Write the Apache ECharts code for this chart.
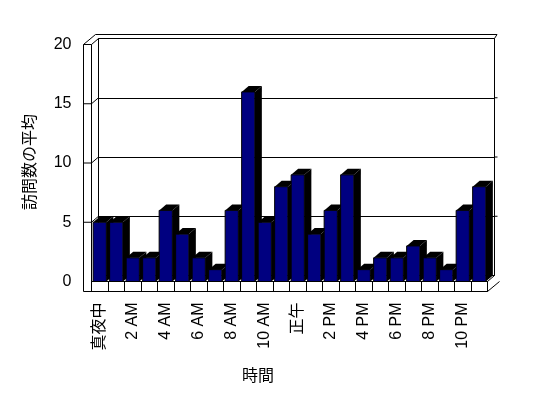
<!DOCTYPE html>
<html>
<head>
<meta charset="utf-8">
<script src="https://cdn.jsdelivr.net/npm/echarts@6/dist/echarts.min.js"></script>
<style>
  html, body { margin: 0; padding: 0; background: #fff; }
  #main { width: 548px; height: 398px; }
</style>
</head>
<body>
<div id="main"></div>
<script>
// 時間帯ごとの訪問数の平均
var hours = ['真夜中', '1 AM', '2 AM', '3 AM', '4 AM', '5 AM', '6 AM', '7 AM', '8 AM', '9 AM', '10 AM', '11 AM',
             '正午', '1 PM', '2 PM', '3 PM', '4 PM', '5 PM', '6 PM', '7 PM', '8 PM', '9 PM', '10 PM', '11 PM'];
var visits = [5, 5, 2, 2, 6, 4, 2, 1, 6, 16, 5, 8, 9, 4, 6, 9, 1, 2, 2, 3, 2, 1, 6, 8];
var yTicks = [0, 5, 10, 15, 20];

var FONT = '"Liberation Sans", "Noto Sans CJK JP", sans-serif';
var Y_MAX = yTicks[yTicks.length - 1];
var Y_STEP = yTicks[1] - yTicks[0];

// 3D風の奥行き
var DX = 7, DY = 6;        // 棒・壁の奥行き
var WALL = 8, FLOOR = 10;  // 左壁・床の厚み
var ODX = 12, ODY = 10;    // 外側の斜め線
var BWX = 2.5;             // 奥の壁の厚み

var front = { left: 91.5, top: 44.5, width: 396, height: 237 };
var back = { left: front.left + DX, top: front.top - DY, width: front.width, height: front.height };

function renderBar(params, api) {
    var idx = api.value(0), val = api.value(1);
    var topPt = api.coord([idx, val]);
    var basePt = api.coord([idx, 0]);
    var w = api.size([1, 0])[0] * 0.8;
    var x0 = topPt[0] - w / 2, x1 = topPt[0] + w / 2;
    var yt = topPt[1], yb = basePt[1];
    return {
        type: 'group',
        children: [
            { type: 'polygon', shape: { points: [[x1, yt], [x1 + DX, yt - DY], [x1 + DX, yb - DY], [x1, yb]] }, style: { fill: '#000' } },
            { type: 'polygon', shape: { points: [[x0, yt], [x0 + DX, yt - DY], [x1 + DX, yt - DY], [x1, yt]] }, style: { fill: '#000' } },
            { type: 'rect', shape: { x: x0, y: yt, width: w, height: yb - yt }, style: { fill: '#000080', stroke: '#000', lineWidth: 1 } }
        ]
    };
}

function renderFrame(params, api) {
    var cw = api.size([1, 0])[0];
    var p0 = api.coord([0, 0]);
    var left = p0[0] - cw / 2, right = left + cw * hours.length;
    var bottom = p0[1], top = api.coord([0, Y_MAX])[1];
    var lines = [
        [[left - WALL, top], [left - WALL, bottom + FLOOR], [right, bottom + FLOOR], [right, bottom]],
        [[left, bottom], [left, top], [left - WALL, top]],
        [[left - WALL, top], [left - WALL + ODX, top - ODY], [right + DX + BWX, top - ODY], [right + DX, top - DY]],
        [[left, top], [left + DX, top - DY]],
        [[right, bottom], [right + DX, bottom - DY]],
        [[right, bottom + FLOOR], [right + ODX, bottom + FLOOR - ODY]]
    ];
    // 左壁の目盛り
    for (var k = 1; k < yTicks.length - 1; k++) {
        var y = api.coord([0, yTicks[k]])[1];
        lines.push([[left - WALL, y], [left, y], [left + DX, y - DY]]);
        lines.push([[right + DX, y - DY], [right + DX + 3, y - DY]]);
    }
    var children = [];
    for (var i = 0; i < lines.length; i++) {
        children.push({ type: 'polyline', shape: { points: lines[i] }, style: { stroke: '#000', lineWidth: 1, fill: null } });
    }
    return { type: 'group', children: children };
}

var myChart = echarts.init(document.getElementById('main'));
var barData = [];
for (var i = 0; i < hours.length; i++) {
    barData.push([i, visits[i]]);
}

var option = {
    backgroundColor: '#fff',
    animation: false,
    grid: [
        { left: front.left, top: front.top, width: front.width, height: front.height },
        { left: back.left, top: back.top, width: back.width, height: back.height, show: true, borderColor: '#000', borderWidth: 1, backgroundColor: '#fff' }
    ],
    xAxis: [{
        type: 'category',
        gridIndex: 0,
        data: hours,
        axisLine: { lineStyle: { color: '#000', width: 1 } },
        axisTick: { show: true, interval: 0, length: FLOOR, lineStyle: { color: '#000' } },
        axisLabel: { interval: 1, rotate: 90, margin: 21, color: '#000', fontSize: 16, fontFamily: FONT }
    }, {
        type: 'category',
        gridIndex: 1,
        data: hours,
        show: false
    }],
    yAxis: [{
        type: 'value',
        gridIndex: 0,
        min: 0, max: Y_MAX, interval: Y_STEP,
        axisLine: { show: false },
        axisTick: { show: false },
        splitLine: { show: false },
        axisLabel: { margin: 20, color: '#000', fontSize: 16, fontFamily: FONT }
    }, {
        type: 'value',
        gridIndex: 1,
        min: 0, max: Y_MAX, interval: Y_STEP,
        axisLine: { show: false },
        axisTick: { show: false },
        axisLabel: { show: false },
        splitLine: { lineStyle: { color: '#000', width: 1 } }
    }],
    graphic: [
        { type: 'text', x: 31, y: 162, rotation: Math.PI / 2,
          style: { text: '訪問数の平均', font: '16px ' + FONT, fill: '#000', align: 'center', verticalAlign: 'middle' } },
        { type: 'text', x: 258, y: 377,
          style: { text: '時間', font: '16px ' + FONT, fill: '#000', align: 'center', verticalAlign: 'middle' } }
    ],
    series: [{
        type: 'custom',
        name: 'frame',
        xAxisIndex: 0, yAxisIndex: 0,
        silent: true,
        clip: false,
        renderItem: renderFrame,
        data: [[0, 0]]
    }, {
        type: 'custom',
        name: '訪問数の平均',
        xAxisIndex: 0, yAxisIndex: 0,
        clip: false,
        renderItem: renderBar,
        encode: { x: 0, y: 1 },
        data: barData
    }]
};
myChart.setOption(option);
</script>
</body>
</html>
